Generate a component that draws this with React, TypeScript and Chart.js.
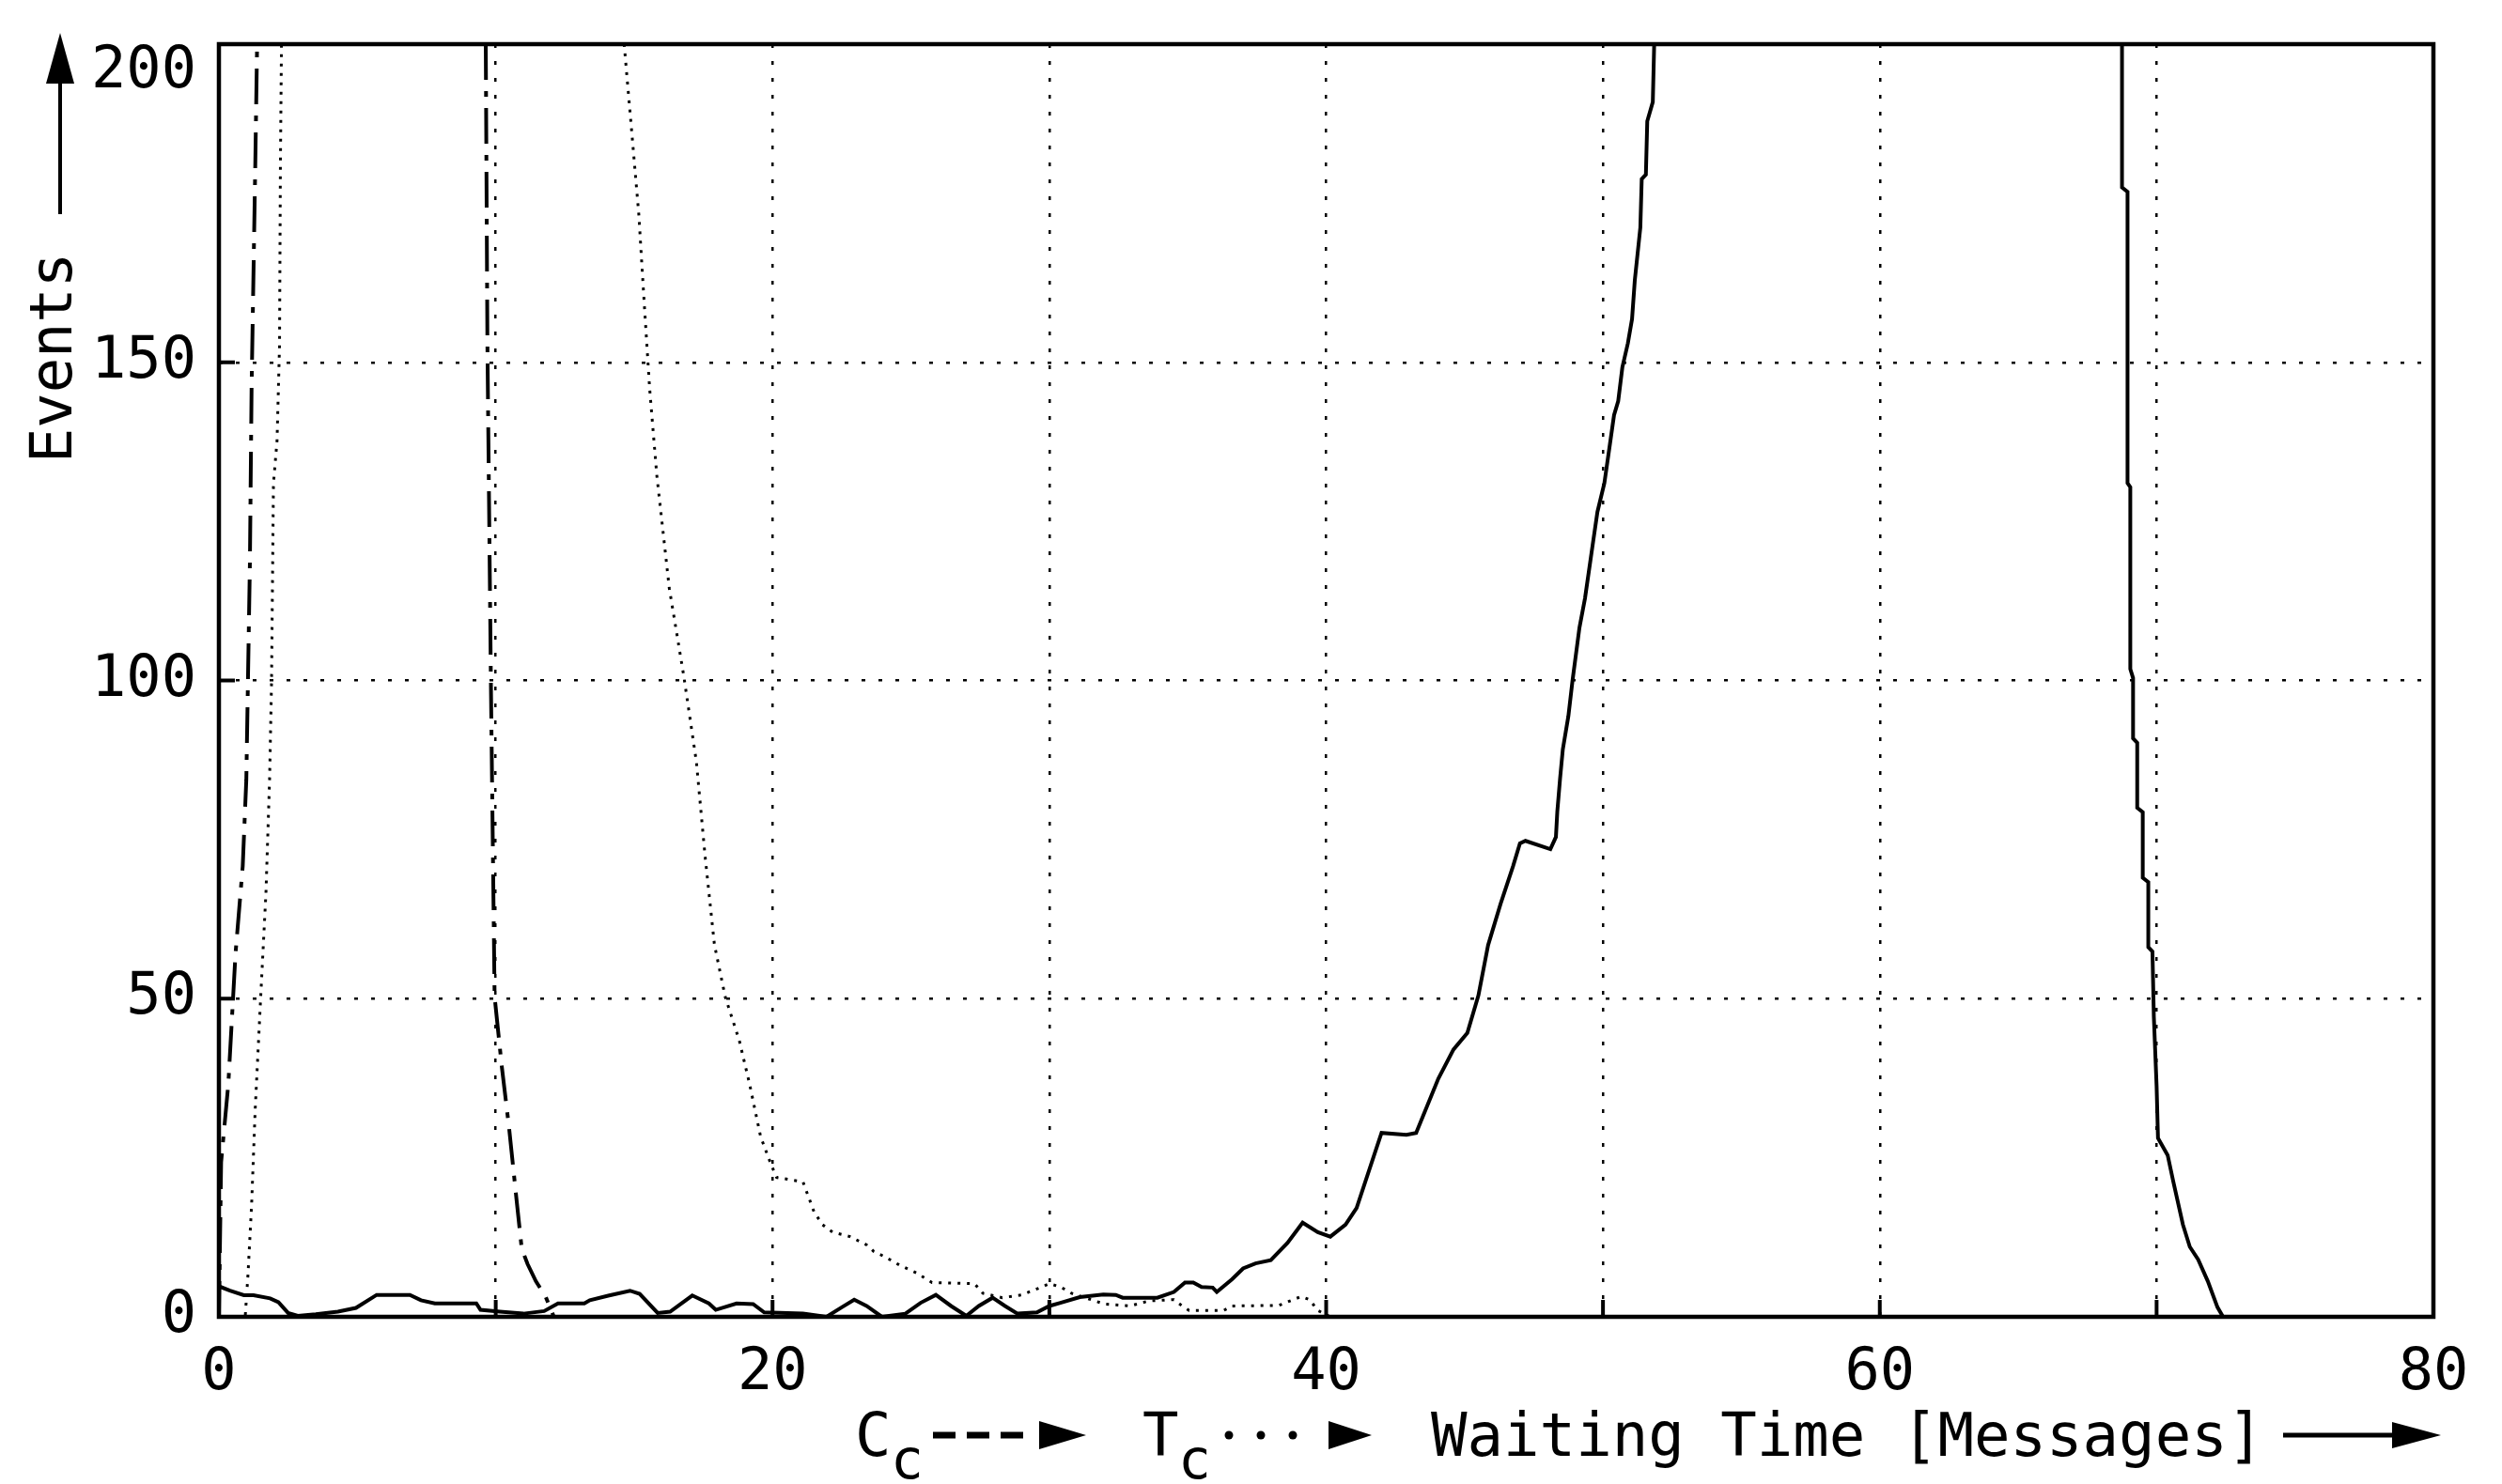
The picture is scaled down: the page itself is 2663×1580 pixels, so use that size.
import React, { useEffect, useRef } from "react";
import { Chart, registerables } from "chart.js";

Chart.register(...registerables);

// Axis tick labels
const xTickLabels = [0, 20, 40, 60, 80];
const yTickLabels = [0, 50, 100, 150, 200];

// Solid curve (waiting time distribution)
const solidX = [
  0, 0.4, 0.9, 1.25, 1.85, 2.15, 2.5, 2.85, 3.5, 4.3, 4.95, 5.7, 6.9, 7.3, 7.8, 9.3, 9.45, 10.15, 11.0, 11.75,
  12.25, 13.2, 13.4, 14.1, 14.85, 15.2, 15.85, 16.3, 17.1, 17.7, 17.95, 18.7, 19.3, 19.7, 21.1, 21.95, 22.5, 22.95,
  23.4, 23.95, 24.8, 25.35, 25.9, 26.45, 27.0, 27.45, 27.95, 28.4, 28.85, 29.55, 30.0, 30.4, 31.1, 31.95, 32.4,
  32.65, 33.9, 34.5, 34.9, 35.2, 35.5, 35.9, 36.05, 36.6, 37.0, 37.45, 38.0, 38.6, 39.15, 39.7, 40.15, 40.7, 41.1,
  42.0, 42.9, 43.25, 44.05, 44.6, 45.1, 45.5, 45.85, 46.3, 46.75, 47.0, 47.2, 48.1, 48.3, 48.35, 48.45, 48.55,
  48.75, 48.9, 49.15, 49.35, 49.65, 49.8, 50.05, 50.25, 50.4, 50.55, 50.7, 50.9, 51.05, 51.15, 51.35, 51.4, 51.55,
  51.6, 51.8, 51.85, 60, 68.75, 68.75, 68.95, 68.95, 69.05, 69.05, 69.15, 69.15, 69.3, 69.3, 69.5, 69.5, 69.7,
  69.7, 69.85, 69.9, 70.0, 70.05, 70.4, 70.6, 70.95, 71.2, 71.5, 71.85, 72.2, 72.4, 80,
];
const solidY = [
  4.8, 4.1, 3.4, 3.4, 2.9, 2.3, 0.6, 0.15, 0.4, 0.8, 1.4, 3.45, 3.45, 2.6, 2.1, 2.1, 1.1, 0.8, 0.5, 0.9,
  2.1, 2.1, 2.6, 3.35, 4.1, 3.6, 0.6, 0.8, 3.35, 2.1, 1.1, 2.1, 2.0, 0.7, 0.5, 0, 1.5, 2.7,
  1.7, 0, 0.5, 2.2, 3.45, 1.7, 0.15, 1.7, 3.0, 1.7, 0.5, 0.7, 1.7, 2.2, 3.1, 3.5, 3.45,
  3.0, 3.0, 3.9, 5.4, 5.4, 4.7, 4.6, 3.9, 5.9, 7.6, 8.4, 8.9, 11.6, 14.8, 13.3, 12.6, 14.5, 17.1,
  28.9, 28.6, 28.9, 37.4, 42, 44.6, 50.5, 58.4, 64.9, 70.8, 74.4, 74.8, 73.5, 75.4, 79.4, 84.6, 89.2,
  94.4, 100, 108.3, 112.9, 122, 126.5, 131, 137.1, 141.7, 143.9, 149.2, 153, 156.8, 162.9, 171.2, 178.8, 179.5,
  187.9, 190.9, 200, null, 200, 177.5, 176.8, 131, 130.4, 101.8, 100.4, 90.9, 90.2, 80, 79.3, 69, 68.3,
  58.1, 57.4, 47.2, 36.3, 28.1, 25.4, 21.3, 14.5, 11, 9, 5.6, 1.5, 0, 0,
];

// C_c curve (dash-dot)
const ccX = [0, 0.08, 0.34, 0.6, 0.86, 0.99, 1.12, 1.18, 1.31, 1.38, 5, 9.64, 9.7, 9.83, 9.96, 10.22, 10.48, 10.74, 10.94, 11.15, 11.45, 11.8, 12.1, 80];
const ccY = [0, 24.3, 36.6, 57.1, 70.8, 84.4, 118.6, 145.9, 180, 200, null, 200, 152.7, 98, 50.3, 39.3, 29.8, 18.9, 10.7, 8.3, 5.6, 3.2, 0, 0];

// T_c curve (dotted)
const tcX = [
  0, 0.95, 1.05, 1.18, 1.31, 1.51, 1.7, 1.83, 1.9, 1.97, 2.1, 2.19, 2.22, 2.26, 8, 14.64, 14.9, 15.17, 15.36, 15.56,
  15.82, 16.27, 16.79, 17.25, 17.57, 17.9, 18.29, 18.8, 19.17, 19.57, 19.95, 20.15, 21.1, 21.5, 21.8, 22.17, 22.8,
  23.4, 23.65, 24.07, 24.6, 25.2, 25.76, 27.3, 27.6, 28.3, 29.0, 29.56, 30.0, 30.4, 30.8, 32.0, 32.9, 33.6, 34.5,
  34.8, 35.05, 36.3, 36.6, 38.3, 39.1, 39.4, 39.7, 40.15, 80,
];
const tcY = [
  0, 0, 6.6, 17.5, 32.5, 50.3, 66.7, 84.4, 99.5, 130.9, 137.7, 152.7, 180, 200, null, 200, 186.9, 173.2, 159.6, 145.9,
  132.2, 114.5, 100.8, 87.2, 72.1, 58.5, 50.3, 43.4, 36.6, 28.3, 23.9, 21.9, 21.2, 16.5, 14.5, 13.3, 12.6,
  11.3, 10.3, 9.4, 8.1, 6.9, 5.4, 5.2, 3.7, 3.0, 3.45, 4.4, 5.2, 4.7, 3.7, 2.0, 1.7, 2.5, 2.7,
  1.7, 1.0, 1.0, 1.7, 1.8, 3.2, 2.7, 1.0, 0, 0,
];

const MONO = '"DejaVu Sans Mono", monospace';

function toPoints(xs: number[], ys: (number | null)[]) {
  return xs.map((x, i) => ({ x, y: ys[i] }));
}

function tri(ctx: CanvasRenderingContext2D, tipX: number, tipY: number, dir: "up" | "right", len: number, half: number) {
  ctx.beginPath();
  if (dir === "up") {
    ctx.moveTo(tipX, tipY);
    ctx.lineTo(tipX - half, tipY + len);
    ctx.lineTo(tipX + half, tipY + len);
  } else {
    ctx.moveTo(tipX, tipY);
    ctx.lineTo(tipX - len, tipY - half);
    ctx.lineTo(tipX - len, tipY + half);
  }
  ctx.closePath();
  ctx.fill();
}

const framePlugin = {
  id: "framePlugin",
  afterDatasetsDraw(chart: any) {
    const { ctx, chartArea: a, scales } = chart;
    ctx.save();
    ctx.strokeStyle = "#000";
    ctx.lineWidth = 4.5;
    ctx.strokeRect(a.left, a.top, a.right - a.left, a.bottom - a.top);
    ctx.lineWidth = 4;
    ctx.beginPath();
    for (let v = 10; v < 80; v += 10) {
      const px = scales.x.getPixelForValue(v);
      ctx.moveTo(px, a.bottom);
      ctx.lineTo(px, a.bottom - 18);
    }
    for (const v of [50, 100, 150]) {
      const py = scales.y.getPixelForValue(v);
      ctx.moveTo(a.left, py);
      ctx.lineTo(a.left + 17, py);
    }
    ctx.stroke();
    ctx.restore();
  },
  afterDraw(chart: any) {
    const { ctx, chartArea: a } = chart;
    ctx.save();
    ctx.fillStyle = "#000";
    ctx.strokeStyle = "#000";

    // top y tick label sits just below the frame top in the original
    ctx.font = `62px ${MONO}`;
    ctx.textAlign = "right";
    ctx.textBaseline = "middle";
    ctx.fillText(String(yTickLabels[yTickLabels.length - 1]), a.left - 24, a.top + 30);

    // Y axis title with arrow
    ctx.save();
    ctx.font = `62px ${MONO}`;
    ctx.translate(60, 381);
    ctx.rotate(-Math.PI / 2);
    ctx.textAlign = "center";
    ctx.textBaseline = "middle";
    ctx.fillText("Events", 0, 0);
    ctx.restore();
    ctx.lineWidth = 4;
    ctx.beginPath();
    ctx.moveTo(64, 228);
    ctx.lineTo(64, 80);
    ctx.stroke();
    tri(ctx, 64, 35, "up", 54, 15);

    // X axis title with legend
    const base = 1550;
    const sub = 1574;
    ctx.textAlign = "left";
    ctx.textBaseline = "alphabetic";
    ctx.font = `64px ${MONO}`;
    ctx.fillText("C", 910, base);
    ctx.font = `58px ${MONO}`;
    ctx.fillText("c", 948, sub);
    // dashed sample
    ctx.lineWidth = 7;
    ctx.beginPath();
    for (let i = 0; i < 3; i++) {
      ctx.moveTo(993 + i * 36, 1528);
      ctx.lineTo(1017 + i * 36, 1528);
    }
    ctx.stroke();
    tri(ctx, 1156, 1528, "right", 50, 15);

    ctx.font = `64px ${MONO}`;
    ctx.fillText("T", 1216, base);
    ctx.font = `58px ${MONO}`;
    ctx.fillText("c", 1254, sub);
    // dotted sample
    for (let i = 0; i < 3; i++) {
      ctx.beginPath();
      ctx.arc(1308 + i * 34, 1528, 4.5, 0, Math.PI * 2);
      ctx.fill();
    }
    tri(ctx, 1460, 1528, "right", 46, 15);

    ctx.font = `64px ${MONO}`;
    ctx.fillText("Waiting Time [Messages]", 1523, base);

    ctx.lineWidth = 5;
    ctx.beginPath();
    ctx.moveTo(2430, 1528);
    ctx.lineTo(2550, 1528);
    ctx.stroke();
    tri(ctx, 2598, 1528, "right", 52, 14);
    ctx.restore();
  },
};

export default function App() {
  const ref = useRef<HTMLCanvasElement | null>(null);

  useEffect(() => {
    if (!ref.current) return;
    const chart = new Chart(ref.current, {
      type: "line",
      data: {
        datasets: [
          {
            label: "Total",
            data: toPoints(solidX, solidY),
            borderColor: "#000",
            borderWidth: 4,
            pointRadius: 0,
            tension: 0,
            spanGaps: false,
            clip: 0,
          },
          {
            label: "Cc",
            data: toPoints(ccX, ccY),
            borderColor: "#000",
            borderWidth: 4,
            borderDash: [38, 12, 6, 12],
            pointRadius: 0,
            tension: 0,
            spanGaps: false,
            clip: 0,
          },
          {
            label: "Tc",
            data: toPoints(tcX, tcY),
            borderColor: "#000",
            borderWidth: 3,
            borderDash: [3, 7],
            pointRadius: 0,
            tension: 0,
            spanGaps: false,
            clip: 0,
          },
        ],
      },
      options: {
        responsive: false,
        animation: false,
        layout: { padding: { left: 0, top: 47, right: 73, bottom: 78 } },
        plugins: { legend: { display: false }, tooltip: { enabled: false }, title: { display: false } },
        scales: {
          x: {
            type: "linear",
            min: 0,
            max: 80,
            afterFit: (s: any) => {
              s.height = 100;
              s.paddingLeft = 0;
              s.paddingRight = 0;
            },
            ticks: {
              stepSize: 10,
              autoSkip: false,
              maxRotation: 0,
              padding: 24,
              color: "#000",
              font: { family: MONO, size: 62 },
              callback: (v: any) => (xTickLabels.includes(Number(v)) ? String(v) : ""),
            },
            grid: { color: "#000", lineWidth: 2.5, drawTicks: false },
            border: { display: false, dash: [4, 14] },
          },
          y: {
            type: "linear",
            min: 0,
            max: 200,
            afterFit: (s: any) => {
              s.width = 233;
              s.paddingTop = 0;
              s.paddingBottom = 0;
            },
            ticks: {
              stepSize: 50,
              padding: 24,
              color: "#000",
              font: { family: MONO, size: 62 },
              callback: (v: any) =>
                yTickLabels.includes(Number(v)) && Number(v) !== yTickLabels[yTickLabels.length - 1] ? String(v) : "",
            },
            grid: { color: "#000", lineWidth: 2.5, drawTicks: false },
            border: { display: false, dash: [4, 14] },
          },
        },
      },
      plugins: [framePlugin],
    });
    return () => chart.destroy();
  }, []);

  return (
    <div style={{ position: "fixed", left: 0, top: 0, width: 2663, height: 1580, background: "#fff" }}>
      <canvas ref={ref} width={2663} height={1580} style={{ width: 2663, height: 1580, display: "block" }} />
    </div>
  );
}
